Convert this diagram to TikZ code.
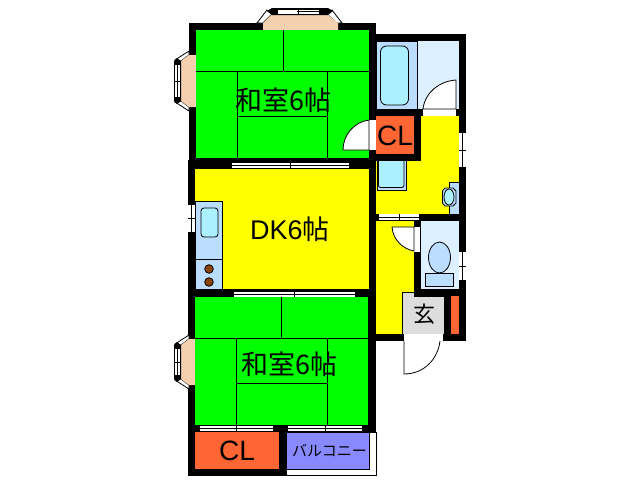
\documentclass[tikz,border=0pt]{standalone}
\usepackage{fontspec}
\setmainfont{Liberation Sans}
\newfontfamily\cjk{Noto Sans CJK JP}
\definecolor{tatami}{HTML}{00FF00}
\definecolor{floorY}{HTML}{FFFF00}
\definecolor{peach}{HTML}{F5D0B0}
\definecolor{clos}{HTML}{FF6633}
\definecolor{bathA}{HTML}{BBDDFF}
\definecolor{bathB}{HTML}{DDF0FF}
\definecolor{basin}{HTML}{AAF0FF}
\definecolor{entry}{HTML}{DDDDDD}
\definecolor{balc}{HTML}{8888FF}
\definecolor{stove}{HTML}{884400}
\tikzset{
  wall/.style={fill=black,draw=none},
  mat/.style={draw=black,line width=0.8pt},
  glass/.style={fill=white,draw=none},
  fix/.style={draw=black,line width=0.8pt},
  room/.style={font=\cjk\fontsize{27}{27}\selectfont,inner sep=0pt},
  lab/.style={font=\fontsize{28}{28}\selectfont,inner sep=0pt},
}
\begin{document}
\begin{tikzpicture}[x=1pt,y=-1pt]
\useasboundingbox (0,0) rectangle (638,480);
% walls
\fill[wall] (189,23) rectangle (376,432);
\fill[wall] (188,160) rectangle (195,476);
\fill[wall] (188,432) rectangle (286,476);
\fill[wall] (369,34) rectangle (466,341);
% top bay
\filldraw[fill=white,fix] (267,10) -- (257,23) -- (263,23) -- (272,14) -- cycle;
\filldraw[fill=white,fix] (332,10) -- (342,23) -- (337,23) -- (327,14) -- cycle;
\fill[peach] (263,23) -- (272,14) -- (327,14) -- (338,23) -- (338,30) -- (263,30) -- cycle;
\fill[wall] (272,8) -- (328,8) -- (333,11) -- (328,15) -- (272,15) -- (267,11) -- cycle;
\fill[glass] (278,9.5) rectangle (319,13.5);
\draw[black,line width=0.6pt] (297,11.5) -- (319,11.5) (298,9.5) -- (298,13.5);
% left bays
\foreach \ya/\yb in {55/107,339/385}{
  \filldraw[fill=white,fix] (189,\ya-4) -- (175,\ya+5) -- (181,\ya+6) -- (189,\ya) -- cycle;
  \filldraw[fill=white,fix] (189,\yb+4) -- (175,\yb-5) -- (181,\yb-6) -- (189,\yb) -- cycle;
  \fill[peach] (196,\ya) -- (189,\ya) -- (181,\ya+6) -- (181,\yb-6) -- (189,\yb) -- (196,\yb) -- cycle;
  \fill[wall] (177,\ya+3) -- (181,\ya+6) -- (181,\yb-6) -- (177,\yb-3) -- (174,\yb-6) -- (174,\ya+6) -- cycle;
  \fill[glass] (175,\ya+10) rectangle (180,\yb-10);
  \draw[black,line width=0.6pt] (177.5,\ya+10) -- (177.5,\yb-10) (175,{(\ya+\yb)/2}) -- (180,{(\ya+\yb)/2});
}
% upper room
\fill[tatami] (196,30) rectangle (369,158);
\draw[mat] (283,30) -- (283,71);
\draw[mat] (196,71) -- (369,71);
\draw[mat] (237,71) -- (237,158);
\draw[mat] (327,71) -- (327,158);
\draw[mat] (237,116.5) -- (327,116.5);
% dining kitchen
\fill[floorY] (195,169) rectangle (369,289);
\filldraw[fill=bathA,fix] (195,201) rectangle (222.5,289);
\draw[mat] (195,259) -- (222.5,259);
\filldraw[fill=basin,fix,rounded corners=3pt] (201,208) rectangle (218,237);
\filldraw[fill=stove,fix] (209,269) circle (4.3);
\filldraw[fill=stove,fix] (209,282) circle (4.3);
% lower room
\fill[tatami] (195,297) rectangle (368,425);
\draw[mat] (281,297) -- (281,338);
\draw[mat] (195,338) -- (368,338);
\draw[mat] (236,338) -- (236,425);
\draw[mat] (327,338) -- (327,425);
\draw[mat] (236,383) -- (327,383);
% closets and balcony
\fill[clos] (195,432) rectangle (279,469);
\filldraw[fill=white,fix] (286,432) -- (376,432) -- (376,475) -- (286,475) -- cycle;
\filldraw[fill=balc,fix] (286,432) -- (369,432) -- (369,469) -- (286,469) -- cycle;
\fill[clos] (376,116) rectangle (414,154);
% bath
\fill[bathB] (417.4,41) rectangle (459,109);
\filldraw[fill=bathA,fix] (376,41) rectangle (417,109);
\fill[wall] (369,34) rectangle (376,116);
\fill[wall] (376,109) rectangle (466,116);
\filldraw[fill=basin,fix,rounded corners=6pt] (380.5,46) rectangle (408.5,105);
% kitchen strip
\fill[floorY] (421,116) rectangle (459,214);
\fill[floorY] (376,161) rectangle (421,214);
\filldraw[fill=bathA,fix] (377,161) -- (377,190) -- (406,190) -- (406,161);
\filldraw[fill=basin,fix,rounded corners=2pt] (378.5,161) -- (378.5,187.5) -- (404,187.5) -- (404,161);
\filldraw[fill=bathA,fix] (459,182) -- (449,182) -- (449,214) -- (459,214);
\filldraw[fill=bathA,fix] (445,188) -- (453,188) -- (456,191) -- (456,203) -- (453,206) -- (445,206) -- (442.5,203) -- (442.5,191) -- cycle;
\filldraw[fill=basin,fix] (449,197) ellipse (5 and 8);
% hall, toilet, entry
\fill[floorY] (376,221) rectangle (414,334);
\fill[bathB] (421,221) rectangle (459,289);
\filldraw[fill=bathA,fix] (439.5,257.5) ellipse (11 and 15.5);
\filldraw[fill=bathA,fix] (425.5,273.5) rectangle (453.5,286.5);
\filldraw[fill=entry,draw=black,line width=0.6pt] (402.5,334) -- (402.5,292.5) -- (414,292.5) -- (414,296) -- (444,296) -- (444,334) -- cycle;
\fill[clos] (451,296) rectangle (459,334);
% doors
\fill[glass] (369,120) rectangle (376,150);
\filldraw[fill=white,fix] (369,120) .. controls (354,122) and (343,135) .. (343,150) -- (369,150) -- cycle;
\fill[glass] (423,109) rectangle (456,116);
\filldraw[fill=white,fix] (423,109) .. controls (425,92) and (440,81) .. (456,80) -- (456,109) -- cycle;
\fill[glass] (414,227) rectangle (420,252);
\filldraw[fill=white,fix] (392,227) .. controls (393,240) and (403,249) .. (414,251) -- (414,227) -- cycle;
\fill[glass] (404,334) rectangle (443,341);
\draw[fix] (404,341) -- (404,374) .. controls (425,374) and (438,358) .. (440,341);
% windows
\foreach \xa/\xb/\ya/\yb in {232/349/163/168,234/355/292/297,200/273/425.5/431,288/362/425.5/431,379/419/214/220}{
  \fill[glass] (\xa,\ya) rectangle (\xb,\yb);
  \draw[black,line width=0.7pt] (\xa,{(\ya+\yb)/2}) -- (\xb,{(\ya+\yb)/2});
  \draw[black,line width=0.7pt] ({(\xa+\xb)/2},\ya) -- ({(\xa+\xb)/2},\yb);
}
\foreach \xa/\xb/\ya/\yb in {188/195/205/232,459/466/133/167,459/466/252/280}{
  \fill[glass] (\xa,\ya) rectangle (\xb,\yb);
  \draw[black,line width=0.7pt] ({(\xa+\xb)/2},\ya) -- ({(\xa+\xb)/2},\yb);
  \draw[black,line width=0.7pt] (\xa,{(\ya+\yb)/2}) -- (\xb,{(\ya+\yb)/2});
}
% labels
\node[room] (roomA) at (283.5,100) {和室6帖};
\node[room] (roomB) at (289.5,364) {和室6帖};
\node[room] (roomD) at (290,229.5) {\fontspec{Liberation Sans}DK6\cjk 帖};
\node[lab] (clA) at (395,136) {CL};
\node[lab] (clB) at (237,451) {CL};
\node[room,font=\cjk\fontsize{22}{22}\selectfont] (ent) at (424,314) {玄};
\node[room,font=\cjk\fontsize{15}{15}\selectfont] (balcony) at (329.5,451) {バルコニー};
\end{tikzpicture}
\end{document}
